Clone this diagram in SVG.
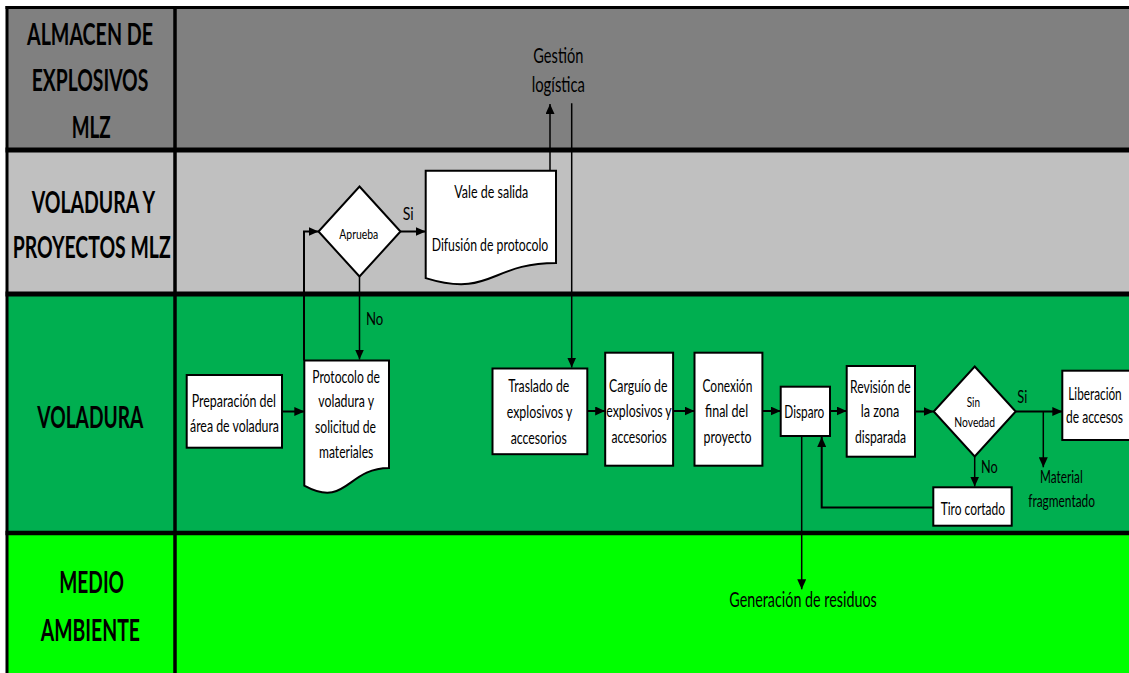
<svg xmlns="http://www.w3.org/2000/svg" width="1129" height="673" viewBox="0 0 1129 673">
  <defs>
    <marker id="arrow" viewBox="0 0 10 9" refX="10" refY="4.5" markerWidth="10" markerHeight="9" markerUnits="userSpaceOnUse" orient="auto">
      <path d="M0,0 L10,4.5 L0,9 z" fill="#000"/>
    </marker>
    <style>
      .lane-title { font-family: Lato, "Liberation Sans", sans-serif; font-weight: bold; font-size: 30px; fill: #000; }
      .t { font-family: Lato, "Liberation Sans", sans-serif; font-size: 17.5px; fill: #000; }
      .sm { font-size: 14px; }
      .lg { font-size: 22px; }
      .box { fill: #fff; stroke: #000; stroke-width: 2; }
      .sep { stroke: #000; fill: none; }
      .conn { stroke: #000; stroke-width: 2; fill: none; }
      .thin { stroke-width: 1.5; }
    </style>
  </defs>

  <rect x="0" y="0" width="1129" height="673" fill="#fff"/>

  <!-- swimlane bands -->
  <g id="lanes">
    <rect x="7" y="7.5" width="1122" height="142.5" fill="#808080"/>
    <rect x="7" y="150" width="1122" height="144" fill="#c0c0c0"/>
    <rect x="7" y="294" width="1122" height="239" fill="#00af50"/>
    <rect x="7" y="533" width="1122" height="140" fill="#00ff00"/>
    <line class="sep" x1="5.5" y1="7.5" x2="1129" y2="7.5" stroke-width="3"/>
    <line class="sep" x1="7" y1="6" x2="7" y2="673" stroke-width="3"/>
    <line class="sep" x1="175" y1="6" x2="175" y2="673" stroke-width="3.5"/>
    <line class="sep" x1="5.5" y1="150" x2="1129" y2="150" stroke-width="5"/>
    <line class="sep" x1="5.5" y1="294" x2="1129" y2="294" stroke-width="5"/>
    <line class="sep" x1="5.5" y1="533" x2="1129" y2="533" stroke-width="4.5"/>
    <text class="lane-title" x="27" y="45" textLength="126" lengthAdjust="spacingAndGlyphs">ALMACEN DE</text>
    <text class="lane-title" x="31.7" y="91" textLength="116.6" lengthAdjust="spacingAndGlyphs">EXPLOSIVOS</text>
    <text class="lane-title" x="71.7" y="138" textLength="39" lengthAdjust="spacingAndGlyphs">MLZ</text>
    <text class="lane-title" x="31.7" y="213" textLength="123.3" lengthAdjust="spacingAndGlyphs">VOLADURA Y</text>
    <text class="lane-title" x="12.7" y="258" textLength="158" lengthAdjust="spacingAndGlyphs">PROYECTOS MLZ</text>
    <text class="lane-title" x="37.3" y="428" textLength="106" lengthAdjust="spacingAndGlyphs">VOLADURA</text>
    <text class="lane-title" x="59.3" y="593" textLength="64.7" lengthAdjust="spacingAndGlyphs">MEDIO</text>
    <text class="lane-title" x="40.7" y="641" textLength="99.3" lengthAdjust="spacingAndGlyphs">AMBIENTE</text>
  </g>

  <!-- connectors -->
  <g id="connectors">
    <line class="conn" x1="282" y1="411.5" x2="304.3" y2="411.5" marker-end="url(#arrow)"/>
    <polyline class="conn" points="304,360.5 304,231.5 318.5,231.5" marker-end="url(#arrow)"/>
    <line class="conn" x1="400.5" y1="231.5" x2="425.7" y2="231.5" marker-end="url(#arrow)"/>
    <line class="conn thin" x1="359.5" y1="276.5" x2="359.5" y2="359.5" marker-end="url(#arrow)"/>
    <line class="conn thin" x1="550" y1="170.7" x2="550" y2="104" marker-end="url(#arrow)"/>
    <line class="conn thin" x1="571.7" y1="103.3" x2="571.7" y2="367.5" marker-end="url(#arrow)"/>
    <line class="conn" x1="587.3" y1="411" x2="605.2" y2="411" marker-end="url(#arrow)"/>
    <line class="conn" x1="673.1" y1="411" x2="694.5" y2="411" marker-end="url(#arrow)"/>
    <line class="conn" x1="762.4" y1="411" x2="780.7" y2="411" marker-end="url(#arrow)"/>
    <line class="conn" x1="830" y1="411" x2="846.7" y2="411" marker-end="url(#arrow)"/>
    <line class="conn" x1="915" y1="411.5" x2="933.7" y2="411.5" marker-end="url(#arrow)"/>
    <line class="conn" x1="1015.7" y1="411.5" x2="1062.3" y2="411.5" marker-end="url(#arrow)"/>
    <line class="conn thin" x1="1043.3" y1="411.5" x2="1043.3" y2="467.3" marker-end="url(#arrow)"/>
    <line class="conn thin" x1="974.7" y1="456.5" x2="974.7" y2="486.5" marker-end="url(#arrow)"/>
    <polyline class="conn" stroke-width="2.5" points="933.3,507.5 821.7,507.5 821.7,437" marker-end="url(#arrow)"/>
    <line class="conn thin" x1="801.7" y1="436" x2="801.7" y2="589.3" marker-end="url(#arrow)"/>
    <text class="t" x="402.7" y="220" font-size="25" textLength="11" lengthAdjust="spacingAndGlyphs">Si</text>
    <text class="t" x="366" y="325" font-size="22" textLength="17.3" lengthAdjust="spacingAndGlyphs">No</text>
    <text class="t" x="1017.3" y="403" font-size="21" textLength="10" lengthAdjust="spacingAndGlyphs">Si</text>
    <text class="t" x="981" y="473" font-size="18" textLength="16.7" lengthAdjust="spacingAndGlyphs">No</text>
  </g>

  <!-- outputs / external labels -->
  <g id="gestion-logistica">
    <text class="t lg" x="533.3" y="62.5" textLength="50" lengthAdjust="spacingAndGlyphs">Gestión</text>
    <text class="t lg" x="531.7" y="91.5" textLength="53.3" lengthAdjust="spacingAndGlyphs">logística</text>
  </g>
  <g id="material-fragmentado">
    <text class="t" font-size="15.5" x="1040" y="483.3" textLength="42.7" lengthAdjust="spacingAndGlyphs">Material</text>
    <text class="t" font-size="15.5" x="1028.3" y="506.7" textLength="66.7" lengthAdjust="spacingAndGlyphs">fragmentado</text>
  </g>
  <g id="generacion-residuos">
    <text class="t lg" x="729.3" y="607.3" textLength="147.4" lengthAdjust="spacingAndGlyphs">Generación de residuos</text>
  </g>

  <!-- process nodes -->
  <g id="preparacion">
    <rect class="box" x="186.7" y="375" width="95.3" height="72.7"/>
    <text class="t" x="191.7" y="407.3" textLength="84.3" lengthAdjust="spacingAndGlyphs">Preparación del</text>
    <text class="t" x="190" y="431.7" textLength="89" lengthAdjust="spacingAndGlyphs">área de voladura</text>
  </g>

  <g id="protocolo">
    <path class="box" d="M304.3,360.5 H389 V468 C346.65,468 346.65,508.9 304.3,485.7 Z"/>
    <text class="t" x="312.3" y="382.7" textLength="67.7" lengthAdjust="spacingAndGlyphs">Protocolo de</text>
    <text class="t" x="318.3" y="407.3" textLength="55.7" lengthAdjust="spacingAndGlyphs">voladura y</text>
    <text class="t" x="315" y="433.3" textLength="61" lengthAdjust="spacingAndGlyphs">solicitud de</text>
    <text class="t" x="319" y="458.3" textLength="54.3" lengthAdjust="spacingAndGlyphs">materiales</text>
  </g>

  <g id="aprueba">
    <polygon class="box" points="359.5,186.5 400.5,231.5 359.5,276.5 318.5,231.5"/>
    <text class="t sm" x="339.3" y="239.3" textLength="39" lengthAdjust="spacingAndGlyphs">Aprueba</text>
  </g>

  <g id="vale-salida">
    <path class="box" d="M425.7,170.7 H556 V262.9 C490.85,262.9 490.85,298.1 425.7,278.1 Z"/>
    <text class="t" x="454.3" y="198.3" textLength="74" lengthAdjust="spacingAndGlyphs">Vale de salida</text>
    <text class="t" x="431.7" y="250.7" textLength="116.6" lengthAdjust="spacingAndGlyphs">Difusión de protocolo</text>
  </g>

  <g id="traslado">
    <rect class="box" x="492.5" y="368.5" width="94.8" height="85.7"/>
    <text class="t" x="508.3" y="391.7" textLength="61" lengthAdjust="spacingAndGlyphs">Traslado de</text>
    <text class="t" x="506.7" y="417.7" textLength="65.6" lengthAdjust="spacingAndGlyphs">explosivos y</text>
    <text class="t" x="510.7" y="444" textLength="56" lengthAdjust="spacingAndGlyphs">accesorios</text>
  </g>

  <g id="carguio">
    <rect class="box" x="605.2" y="352.7" width="67.9" height="113"/>
    <text class="t" x="609.1" y="392.3" textLength="58.4" lengthAdjust="spacingAndGlyphs">Carguío de</text>
    <text class="t" x="606.3" y="416.7" textLength="65.4" lengthAdjust="spacingAndGlyphs">explosivos y</text>
    <text class="t" x="611.5" y="443.3" textLength="55.3" lengthAdjust="spacingAndGlyphs">accesorios</text>
  </g>

  <g id="conexion">
    <rect class="box" x="694.5" y="352.7" width="67.9" height="113"/>
    <text class="t" x="702.5" y="392" textLength="49.8" lengthAdjust="spacingAndGlyphs">Conexión</text>
    <text class="t" x="705" y="417" textLength="43.1" lengthAdjust="spacingAndGlyphs">final del</text>
    <text class="t" x="703.6" y="443" textLength="48" lengthAdjust="spacingAndGlyphs">proyecto</text>
  </g>

  <g id="disparo">
    <rect class="box" x="780.7" y="386.7" width="49.3" height="49.3"/>
    <text class="t" x="784.3" y="418.3" textLength="40" lengthAdjust="spacingAndGlyphs">Disparo</text>
  </g>

  <g id="revision">
    <rect class="box" x="846.7" y="366" width="68.3" height="90.7"/>
    <text class="t" x="850" y="393" textLength="60.7" lengthAdjust="spacingAndGlyphs">Revisión de</text>
    <text class="t" x="860.7" y="417" textLength="38.6" lengthAdjust="spacingAndGlyphs">la zona</text>
    <text class="t" x="855" y="442.7" textLength="51" lengthAdjust="spacingAndGlyphs">disparada</text>
  </g>

  <g id="sin-novedad">
    <polygon class="box" points="974.7,366.5 1015.7,411.5 974.7,456.5 933.7,411.5"/>
    <text class="t sm" x="966.7" y="406.7" textLength="13.3" lengthAdjust="spacingAndGlyphs">Sin</text>
    <text class="t sm" x="954.3" y="426.7" textLength="40.7" lengthAdjust="spacingAndGlyphs">Novedad</text>
  </g>

  <g id="liberacion">
    <rect class="box" x="1062.3" y="370.7" width="72" height="69.3"/>
    <text class="t" x="1068.3" y="400" textLength="53.4" lengthAdjust="spacingAndGlyphs">Liberación</text>
    <text class="t" x="1066" y="423.3" textLength="57" lengthAdjust="spacingAndGlyphs">de accesos</text>
  </g>

  <g id="tiro-cortado">
    <rect class="box" x="933.3" y="487.3" width="78.4" height="38.4"/>
    <text class="t" x="940.7" y="515" textLength="64.3" lengthAdjust="spacingAndGlyphs">Tiro cortado</text>
  </g>
</svg>
